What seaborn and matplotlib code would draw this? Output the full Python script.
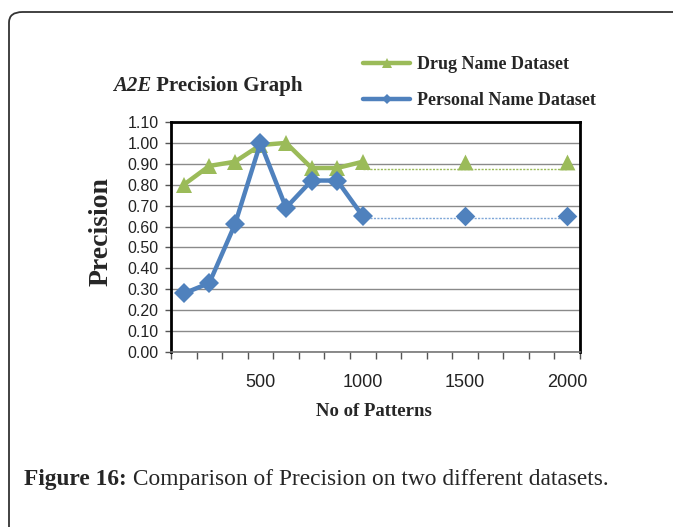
import numpy as np
import pandas as pd
import matplotlib
matplotlib.use("Agg")
import matplotlib.pyplot as plt
from matplotlib.patches import FancyBboxPatch
from matplotlib.lines import Line2D
import seaborn as sns

# ---- data ----
patterns = [125, 250, 375, 500, 625, 750, 875, 1000, 1125, 1250, 1375, 1500, 1625, 1750, 1875, 2000]
shown_labels = [500, 1000, 1500, 2000]
drug = [0.80, 0.89, 0.91, 0.99, 1.00, 0.88, 0.88, 0.91, np.nan, np.nan, np.nan, 0.91, np.nan, np.nan, np.nan, 0.91]
personal = [0.28, 0.33, 0.61, 1.00, 0.69, 0.82, 0.82, 0.65, np.nan, np.nan, np.nan, 0.65, np.nan, np.nan, np.nan, 0.65]
drug_trend_level = 0.875
personal_trend_level = 0.64
trend_from = 1000
yticks = [0.00, 0.10, 0.20, 0.30, 0.40, 0.50, 0.60, 0.70, 0.80, 0.90, 1.00, 1.10]

GREEN = "#9BBB59"
BLUE = "#4F81BD"

sns.set_style("white")
plt.rcParams["font.family"] = ["Liberation Sans", "DejaVu Sans"]

W, H = 673, 527
fig = plt.figure(figsize=(W / 100, H / 100), dpi=100)

# outer frame (rounded top-left corner)
frame = FancyBboxPatch((9 / W, -0.2), 1.2, (H - 12) / H + 0.2,
                       boxstyle="round,pad=0,rounding_size=0.02",
                       transform=fig.transFigure, fill=False,
                       edgecolor="#333333", linewidth=1.3, clip_on=False)
fig.patches.append(frame)

L, R, T, B = 171, 580, 122, 352
ax = fig.add_axes([L / W, 1 - B / H, (R - L) / W, (B - T) / H])

pos = np.arange(len(patterns))
df = pd.DataFrame({"pos": pos, "Drug Name Dataset": drug, "Personal Name Dataset": personal})

# main connected segments
main = df[df["pos"] <= patterns.index(trend_from)]
sns.lineplot(data=main, x="pos", y="Drug Name Dataset", ax=ax, color=GREEN, linewidth=3.2,
             marker="^", markersize=11, markeredgewidth=0, zorder=4)
sns.lineplot(data=main, x="pos", y="Personal Name Dataset", ax=ax, color=BLUE, linewidth=3.2,
             marker="D", markersize=10, markeredgewidth=0, zorder=5)

# later isolated points
later = df[df["pos"] > patterns.index(trend_from)].dropna()
sns.scatterplot(data=later, x="pos", y="Drug Name Dataset", ax=ax, color=GREEN, marker="^",
                s=130, linewidth=0, zorder=4)
sns.scatterplot(data=later, x="pos", y="Personal Name Dataset", ax=ax, color=BLUE, marker="D",
                s=100, linewidth=0, zorder=5)

# thin dotted continuation lines
tr = pd.DataFrame({"pos": [patterns.index(trend_from), len(patterns) - 1],
                   "d": [drug_trend_level] * 2, "p": [personal_trend_level] * 2})
sns.lineplot(data=tr, x="pos", y="d", ax=ax, color=GREEN, linewidth=1.0, linestyle=(0, (1.5, 1)), zorder=3)
sns.lineplot(data=tr, x="pos", y="p", ax=ax, color="#7FA7D8", linewidth=1.0, linestyle=(0, (1.5, 1)), zorder=3)

ax.set_xlim(-0.5, len(patterns) - 0.5)
ax.set_ylim(0, 1.1)
ax.set_yticks(yticks)
ax.set_yticklabels([f"{v:.2f}" for v in yticks], fontsize=11.5, color="#222222")
ax.yaxis.grid(True, color="#8a8a8a", linewidth=1.0)
ax.set_axisbelow(True)

# category boundary ticks
ax.set_xticks(np.arange(-0.5, len(patterns) + 0.5, 1.0))
ax.set_xticklabels([])
ax.set_xticks([patterns.index(v) for v in shown_labels], minor=True)
ax.set_xticklabels([str(v) for v in shown_labels], minor=True, fontsize=13, color="#222222")
ax.tick_params(axis="x", which="major", direction="out", length=5, width=1, color="#555555", bottom=True)
ax.tick_params(axis="x", which="minor", length=0, pad=16)
ax.tick_params(axis="y", direction="out", length=4, width=1, color="#555555", left=True, pad=5)

for side in ["left", "right", "top"]:
    ax.spines[side].set_color("black")
    ax.spines[side].set_linewidth(2.0)
ax.spines["bottom"].set_color("#777777")
ax.spines["bottom"].set_linewidth(1.2)

ax.set_xlabel("")
ax.set_ylabel("")

serif = ["Liberation Serif", "DejaVu Serif"]
fig.text(101 / W, 1 - 232 / H, "Precision", rotation=90, ha="center", va="center",
         fontsize=20, fontweight="bold", family=serif)
fig.text(374 / W, 1 - 412 / H, "No of Patterns", ha="center", va="center",
         fontsize=13.5, fontweight="bold", family=serif)

t1 = fig.text(113 / W, 1 - 91 / H, "A2E", ha="left", va="baseline", fontsize=15,
              fontweight="bold", fontstyle="italic", family=serif)
ax.annotate(" Precision Graph", xy=(1, 0), xycoords=t1, ha="left", va="bottom",
            fontsize=15, fontweight="bold", family=serif)

# legend
handles = [Line2D([0], [0], color=GREEN, linewidth=3.2, marker="^", markersize=7, markeredgewidth=0),
           Line2D([0], [0], color=BLUE, linewidth=3.2, marker="D", markersize=5, markeredgewidth=0)]
fig.legend(handles, ["Drug Name Dataset", "Personal Name Dataset"],
           loc="upper left", bbox_to_anchor=(356 / W, 1 - 49 / H), frameon=False,
           prop={"family": serif, "weight": "bold", "size": 13},
           handlelength=2.6, handletextpad=0.4, labelspacing=1.05, borderaxespad=0)

# caption
c1 = fig.text(24 / W, 1 - 485 / H, "Figure 16:", ha="left", va="baseline", fontsize=16.8,
              fontweight="bold", family=serif)
ax.annotate(" Comparison of Precision on two different datasets.", xy=(1, 0), xycoords=c1,
            ha="left", va="bottom", fontsize=16.8, family=serif)

fig.savefig("out.png", dpi=100)
